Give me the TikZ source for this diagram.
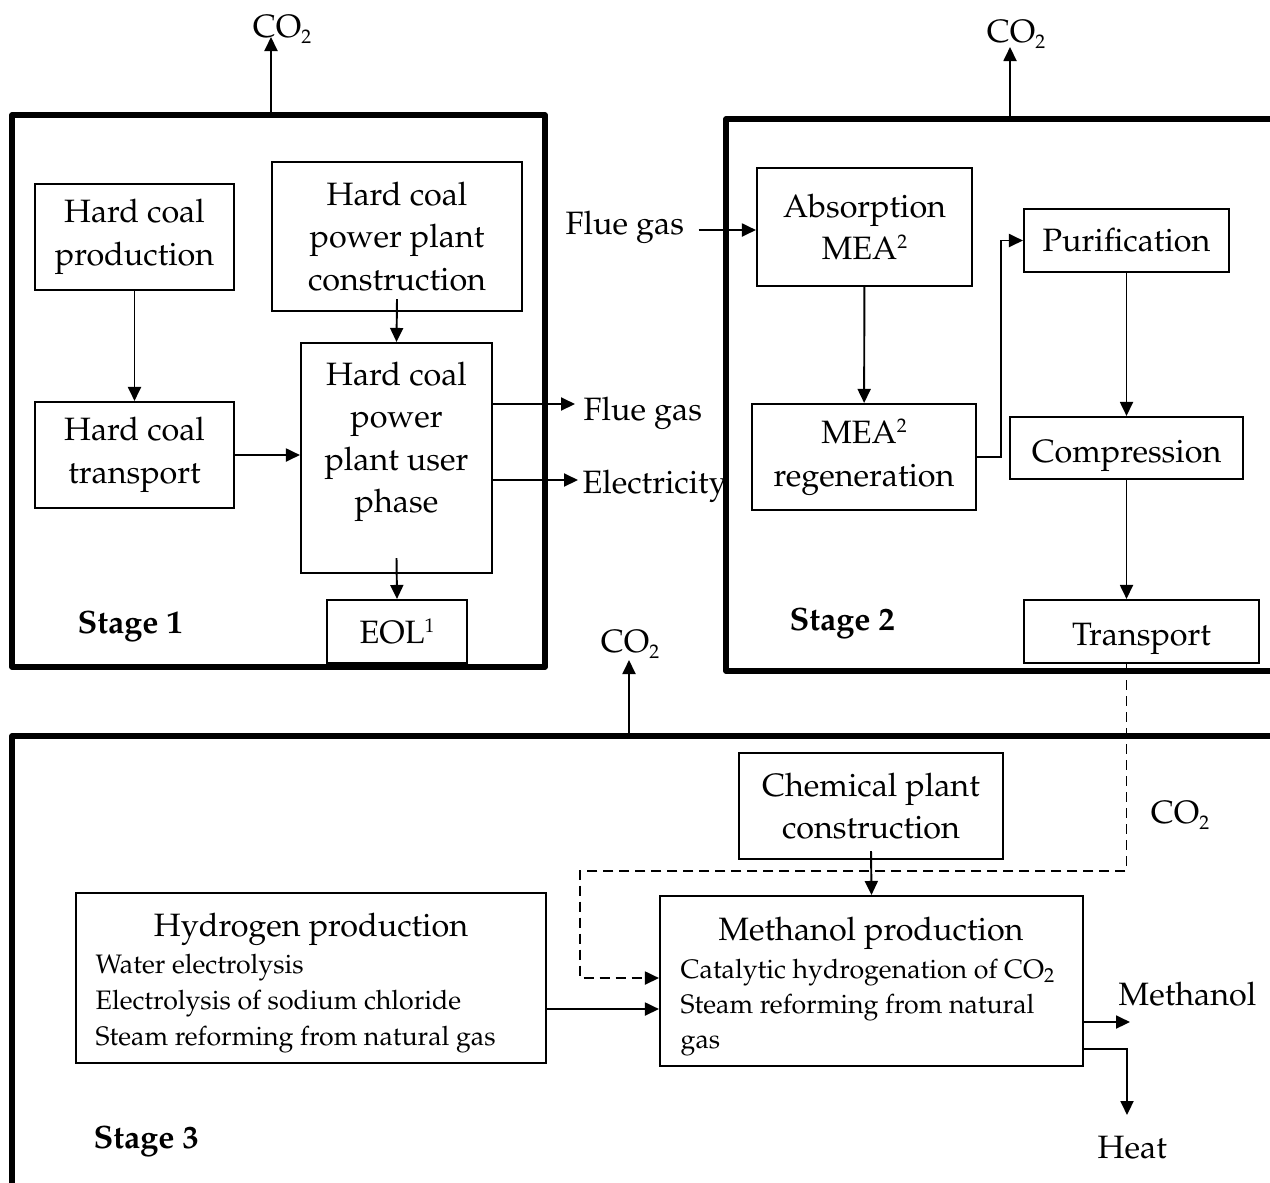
\documentclass[tikz,border=0pt]{standalone}
\usepackage[T1]{fontenc}
\usepackage{mathpazo}
\usepackage{tikz}
\usetikzlibrary{arrows.meta}

\newcommand{\mainsz}{\fontsize{9.2}{12.1}\selectfont}
\newcommand{\smallsz}{\fontsize{7.6}{10}\selectfont}
\newcommand{\cotwo}{CO\raisebox{-0.45ex}{\fontsize{5.6}{6}\selectfont 2}}
\newcommand{\supnum}[1]{\raisebox{0.75ex}{\fontsize{5.6}{6}\selectfont #1}}

\begin{document}
\begin{tikzpicture}[x=0.1mm,y=-0.1mm,
    box/.style={draw,line width=0.6pt,inner sep=0pt,align=center,font=\mainsz},
    stage/.style={line width=1.5pt,line join=round},
    flow/.style={-{Triangle[length=1.4mm,width=1.3mm]},line width=0.55pt},
    dflow/.style={flow,dash pattern=on 1mm off 0.6mm},
    lbl/.style={inner sep=0pt,font=\mainsz},
    stagelbl/.style={inner sep=0pt,font=\mainsz\bfseries}]
    \clip (0,0) rectangle (1270,1182);

    % stage frames
    \draw [stage] (12,115) rectangle (545,667);
    \draw [stage] (726,119) rectangle (1300,671);
    \draw [stage] (12,736) rectangle (1300,1230);
    \coordinate (s1top) at (271,115);
    \coordinate (s2top) at (1010,119);
    \coordinate (s3top) at (629,736);

    \node [stagelbl,anchor=base west] (st1) at (77,633) {Stage 1};
    \node [stagelbl,anchor=base west] (st2) at (789,630) {Stage 2};
    \node [stagelbl,anchor=base west] (st3) at (93,1148) {Stage 3};

    % CO2 emissions
    \node [lbl,anchor=base] (co2a) at (282,37) {\cotwo};
    \node [lbl,anchor=base] (co2b) at (1016,42) {\cotwo};
    \node [lbl,anchor=base] (co2c) at (630,652) {\cotwo};
    \node [lbl,anchor=base] (co2d) at (1180,823) {\cotwo};
    \draw [flow] (s1top) -- (s1top |- co2a.base);
    \draw [flow] (s2top) -- ([yshift=-0.5mm]s2top |- co2b.base);
    \draw [flow] (s3top) -- ([yshift=-0.8mm]s3top |- co2c.base);

    % stage 1
    \node [box,minimum width=19.9mm,minimum height=10.6mm] (prod) at (134.5,237) {Hard coal\\production};
    \node [box,minimum width=25mm,minimum height=14.9mm] (constr) at (397,236.5) {Hard coal\\power plant\\construction};
    \node [box,minimum width=19.9mm,minimum height=10.6mm] (trans) at (134.5,455) {Hard coal\\transport};
    \node [box,minimum width=19.1mm,minimum height=23mm] (user) at (396.5,458) {};
    \node [lbl,align=center] (usertxt) at (396.5,442) {Hard coal\\power\\plant user\\phase};
    \node [box,minimum width=14mm,minimum height=6.3mm] (eol) at (397,631.5) {EOL\supnum{1}};

    \draw [flow] (prod) -- (trans);
    \draw [flow] (trans.east) -- (trans.east -| user.west);
    \draw [flow] ([yshift=1.3mm]constr.south) -- (user.north);
    \draw [flow] ([yshift=1.6mm]user.south) -- (eol.north);

    \node [lbl,anchor=base west] (fgout) at (583,420) {Flue gas};
    \node [lbl,anchor=base west] (elec) at (582,493) {Electricity};
    \draw [flow,shorten >=0.8mm] (user.east |- 0,404) -- (fgout.west |- 0,404);
    \draw [flow,shorten >=0.4mm] (user.east |- 0,480) -- (elec.west |- 0,480);

    % stage 2
    \node [lbl,anchor=base west] (fgin) at (565,234) {Flue gas};
    \node [box,minimum width=21.5mm,minimum height=11.8mm] (absorb) at (864.5,227) {Absorption\\MEA\supnum{2}};
    \node [box,minimum width=22.4mm,minimum height=10.6mm] (regen) at (864,457) {MEA\supnum{2}\\regeneration};
    \node [box,minimum width=20.5mm,minimum height=6.3mm] (purif) at (1126.5,240.5) {Purification};
    \node [box,minimum width=23.3mm,minimum height=6.2mm,text height=3.2mm,text depth=0.4mm] (compr) at (1126.5,448) {Compression};
    \node [box,minimum width=23.5mm,minimum height=6.3mm,text height=3.2mm,text depth=0.4mm] (transp) at (1141.5,631.5) {Transport};

    \draw [flow,shorten <=1.4mm] (fgin.east |- 0,230) -- (absorb.west |- 0,230);
    \draw [flow] (absorb) -- (regen);
    \draw [flow] (regen.east) -- ++(24,0) |- (purif.west);
    \draw [flow] (purif) -- (compr);
    \draw [flow] (compr.south) -- (compr.south |- transp.north);

    % stage 3
    \node [box,minimum width=26.4mm,minimum height=10.6mm] (chem) at (871,806) {Chemical plant\\construction};
    \node [box,minimum width=47mm,minimum height=17mm] (hyd) at (311,978) {};
    \node [box,minimum width=42.3mm,minimum height=17mm] (meth) at (871.5,981) {};
    \node [lbl,anchor=base] (hydtitle) at (311,936) {Hydrogen production};
    \node [lbl,anchor=base] (methtitle) at (871,940) {Methanol production};
    \foreach \t [count=\i] in {Water electrolysis,Electrolysis of sodium chloride,Steam reforming from natural gas}
        \node [lbl,font=\smallsz,anchor=base west] (hyd\i) at (95,{937+36*\i}) {\t};
    \foreach \t [count=\i] in {Catalytic hydrogenation of CO\textsubscript{2},Steam reforming from natural,gas}
        \node [lbl,font=\smallsz,anchor=base west] (meth\i) at (680,{943+35*\i}) {\t};

    \coordinate (dbend) at (580,871);
    \draw [dflow] (compr.south |- transp.south) |- (dbend) |- (meth.west |- 0,978);
    \draw [flow] ([yshift=0.9mm]chem.south) -- (meth.north);
    \draw [flow] (hyd.east |- 0,1009) -- (meth.west |- 0,1009);

    \node [lbl,anchor=base west] (methlbl) at (1118,1005) {Methanol};
    \node [lbl,anchor=base west] (heat) at (1097,1158) {Heat};
    \coordinate (methout) at (1130,1022);
    \coordinate (heatin) at (1127,1115);
    \draw [flow] (meth.east |- methout) -- (methout);
    \draw [flow] (meth.east |- 0,1049) -| (heatin);
\end{tikzpicture}
\end{document}
